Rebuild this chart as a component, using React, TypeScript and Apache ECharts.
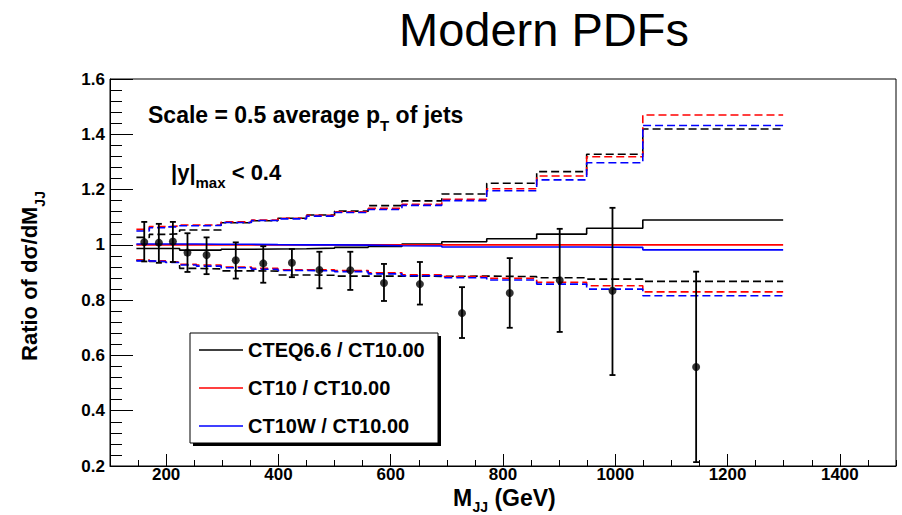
import React, { useEffect, useRef } from "react";
import * as echarts from "echarts";

const FONT = "'Liberation Sans', Arial, Helvetica, sans-serif";

// Bin edges (GeV) of the theory histograms
const EDGES = [147, 170, 199, 224, 254, 298, 352, 399, 450, 500, 560, 620, 691, 771, 860, 949, 1049, 1299];

// CTEQ6.6 / CT10.00
const CTEQ_C = [0.987, 0.987, 0.987, 0.981, 0.981, 0.984, 0.985, 0.986, 0.988, 0.991, 0.994, 1.003, 1.011, 1.022, 1.039, 1.06, 1.09];
const CTEQ_UP = [1.027, 1.038, 1.04, 1.054, 1.054, 1.08, 1.087, 1.096, 1.108, 1.122, 1.142, 1.159, 1.184, 1.223, 1.265, 1.328, 1.419];
const CTEQ_DN = [0.944, 0.94, 0.937, 0.915, 0.913, 0.906, 0.905, 0.891, 0.89, 0.887, 0.887, 0.886, 0.887, 0.885, 0.881, 0.876, 0.868];

// CT10 / CT10.00
const CT10_C = [1.0, 1.0, 1.0, 1.0, 1.0, 1.0, 1.0, 1.0, 1.0, 1.0, 1.0, 1.0, 1.0, 1.0, 1.0, 1.0, 1.0];
const CT10_UP = [1.056, 1.066, 1.068, 1.072, 1.072, 1.083, 1.09, 1.096, 1.107, 1.12, 1.132, 1.147, 1.165, 1.203, 1.249, 1.319, 1.47];
const CT10_DN = [0.945, 0.942, 0.938, 0.93, 0.927, 0.92, 0.915, 0.91, 0.91, 0.907, 0.899, 0.892, 0.885, 0.879, 0.865, 0.852, 0.83];

// CT10W / CT10.00
const CT10W_C = [1.003, 1.003, 1.003, 1.003, 1.002, 1.002, 1.001, 1.0, 1.0, 0.999, 0.997, 0.996, 0.992, 0.992, 0.992, 0.991, 0.982];
const CT10W_UP = [1.05, 1.062, 1.065, 1.069, 1.07, 1.081, 1.088, 1.094, 1.104, 1.117, 1.128, 1.143, 1.16, 1.196, 1.235, 1.297, 1.432];
const CT10W_DN = [0.942, 0.94, 0.936, 0.927, 0.923, 0.917, 0.912, 0.907, 0.906, 0.903, 0.895, 0.888, 0.881, 0.873, 0.858, 0.84, 0.816];

// Data points
const DATA_X = [161, 187, 212, 238, 272, 324, 373, 424, 473, 528, 588, 652, 727, 812, 901, 995, 1144];
const DATA_Y = [1.01, 1.008, 1.012, 0.972, 0.963, 0.944, 0.933, 0.935, 0.909, 0.908, 0.862, 0.858, 0.753, 0.826, 0.872, 0.834, 0.558];
const DATA_HI = [1.083, 1.076, 1.083, 1.042, 1.027, 1.009, 0.995, 0.985, 0.975, 0.975, 0.931, 0.938, 0.847, 0.952, 1.058, 1.134, 0.903];
const DATA_LO = [0.94, 0.935, 0.938, 0.902, 0.894, 0.878, 0.863, 0.883, 0.843, 0.837, 0.797, 0.784, 0.663, 0.7, 0.685, 0.529, 0.214];

// Axis ticks
const X_TICKS = [200, 400, 600, 800, 1000, 1200, 1400];
const Y_TICKS = [0.2, 0.4, 0.6, 0.8, 1, 1.2, 1.4, 1.6];

const LEGEND_NAMES = ["CTEQ6.6 / CT10.00", "CT10 / CT10.00", "CT10W / CT10.00"];

function stepData(vals: number[]) {
  const d: number[][] = vals.map((v, i) => [EDGES[i], v]);
  d.push([EDGES[EDGES.length - 1], vals[vals.length - 1]]);
  return d;
}

function stepSeries(name: string, vals: number[], color: string, dashed: boolean) {
  return {
    type: "line",
    name,
    data: stepData(vals),
    step: "end",
    symbol: "none",
    showSymbol: false,
    silent: true,
    color,
    itemStyle: { color },
    lineStyle: { color, width: 1.6, type: dashed ? [8, 4] : "solid" },
    z: 2,
  };
}

const richMain = (size: number, weight = "bold") => ({
  fontSize: size,
  fontWeight: weight,
  fontFamily: FONT,
  fill: "#000",
});
const richSub = (size: number, pad: number) => ({
  fontSize: size,
  fontWeight: "bold",
  fontFamily: FONT,
  fill: "#000",
  padding: [pad, 0, 0, 0],
});

const plainText = (x: number, y: number, text: string, size: number, lineHeight: number) => ({
  type: "text",
  x,
  y,
  z: 10,
  style: {
    text,
    fontSize: size,
    fontWeight: "bold",
    fontFamily: FONT,
    fill: "#000",
    lineHeight,
    align: "left",
    verticalAlign: "middle",
  },
});

export default function App() {
  const ref = useRef<HTMLDivElement>(null);
  useEffect(() => {
    const chart = echarts.init(ref.current!, null, { renderer: "svg" });
    const option: any = {
      animation: false,
      grid: {
        left: 110,
        top: 79,
        right: 6,
        bottom: 49,
        show: true,
        borderColor: "#000",
        borderWidth: 1,
        backgroundColor: "transparent",
      },
      xAxis: [
        {
          type: "value",
          min: 100,
          max: 1500,
          interval: 100,
          axisLine: { lineStyle: { color: "#000", width: 1 } },
          axisTick: { inside: true, length: 12, customValues: X_TICKS, lineStyle: { color: "#000", width: 1 } },
          axisLabel: {
            customValues: X_TICKS,
            fontSize: 17,
            lineHeight: 17,
            fontWeight: "bold",
            color: "#000",
            fontFamily: FONT,
            margin: 0,
            formatter: (v: number) => String(v),
          },
          splitLine: { show: false },
        },
        {
          type: "value",
          min: 100,
          max: 1500,
          interval: 50,
          position: "bottom",
          axisLine: { show: false },
          axisTick: { inside: true, length: 6, lineStyle: { color: "#000", width: 1 } },
          axisLabel: { show: false },
          splitLine: { show: false },
        },
      ],
      yAxis: {
        type: "value",
        min: 0.2,
        max: 1.6,
        interval: 0.2,
        axisLine: { show: true, lineStyle: { color: "#000", width: 1 } },
        axisTick: { inside: true, length: 23, customValues: Y_TICKS, lineStyle: { color: "#000", width: 1 } },
        minorTick: { show: true, splitNumber: 5, length: 12, lineStyle: { color: "#000", width: 1 } },
        axisLabel: {
          customValues: Y_TICKS,
          fontSize: 17,
          fontWeight: "bold",
          color: "#000",
          fontFamily: FONT,
          margin: 5,
          formatter: (v: number) => String(Number(v.toFixed(1))),
        },
        splitLine: { show: false },
        minorSplitLine: { show: false },
      },
      legend: {
        data: LEGEND_NAMES,
        orient: "vertical",
        left: 199,
        top: 340,
        padding: 0,
        itemWidth: 44,
        itemHeight: 1.6,
        itemGap: 18,
        itemTextGap: 10,
        icon: "rect",
        selectedMode: false,
        backgroundColor: "transparent",
        textStyle: { fontSize: 20, fontWeight: "bold", color: "#000", fontFamily: FONT, lineHeight: 20 },
        z: 20,
      },
      graphic: [
        {
          type: "text",
          x: 544,
          y: 29,
          z: 10,
          style: {
            text: "Modern PDFs",
            fontSize: 47,
            fontWeight: "normal",
            fontFamily: FONT,
            fill: "#000",
            align: "center",
            verticalAlign: "middle",
          },
        },
        {
          type: "text",
          x: 148,
          y: 115,
          z: 10,
          style: {
            text: "{m|Scale = 0.5 average p}{s|T}{m| of jets}",
            rich: { m: richMain(23), s: richSub(15, 20) },
            align: "left",
            verticalAlign: "middle",
            fill: "#000",
          },
        },
        {
          type: "text",
          x: 171,
          y: 172.5,
          z: 10,
          style: {
            text: "{m||y|}{s|max}{m| < 0.4}",
            rich: { m: richMain(22), s: richSub(15, 19) },
            align: "left",
            verticalAlign: "middle",
            fill: "#000",
          },
        },
        // x-axis title: M_JJ (GeV)
        plainText(453, 498, "M", 23, 18),
        plainText(472.5, 507, "JJ", 14, 13),
        plainText(488, 498, " (GeV)", 23, 18),
        {
          type: "text",
          x: 29,
          y: 276,
          rotation: Math.PI / 2,
          z: 10,
          style: {
            text: "{m|Ratio of dσ/dM}{s|JJ}",
            rich: { m: richMain(22), s: richSub(14, 22) },
            align: "center",
            verticalAlign: "middle",
            fill: "#000",
          },
        },
        {
          type: "rect",
          z: 10,
          shape: { x: 193, y: 336, width: 248, height: 110 },
          style: { fill: "#000" },
        },
        {
          type: "rect",
          z: 11,
          shape: { x: 190, y: 333, width: 248, height: 110 },
          style: { fill: "#fff", stroke: "#000", lineWidth: 1 },
        },
      ],
      series: [
        stepSeries(LEGEND_NAMES[0], CTEQ_C, "#000000", false),
        stepSeries("CTEQ6.6 upper", CTEQ_UP, "#000000", true),
        stepSeries("CTEQ6.6 lower", CTEQ_DN, "#000000", true),
        stepSeries(LEGEND_NAMES[1], CT10_C, "#ff0000", false),
        stepSeries("CT10 upper", CT10_UP, "#ff0000", true),
        stepSeries("CT10 lower", CT10_DN, "#ff0000", true),
        stepSeries(LEGEND_NAMES[2], CT10W_C, "#0000ff", false),
        stepSeries("CT10W upper", CT10W_UP, "#0000ff", true),
        stepSeries("CT10W lower", CT10W_DN, "#0000ff", true),
        {
          type: "custom",
          name: "Data errors",
          silent: true,
          z: 4,
          data: DATA_X.map((x, i) => [x, DATA_LO[i], DATA_HI[i]]),
          encode: { x: 0, y: [1, 2] },
          renderItem: (params: any, api: any) => {
            const x = api.value(0);
            const lo = api.coord([x, api.value(1)]);
            const hi = api.coord([x, api.value(2)]);
            const st = { stroke: "#000", lineWidth: 1.8 };
            return {
              type: "group",
              children: [
                { type: "line", shape: { x1: lo[0], y1: lo[1], x2: hi[0], y2: hi[1] }, style: st },
                { type: "line", shape: { x1: lo[0] - 3, y1: lo[1], x2: lo[0] + 3, y2: lo[1] }, style: st },
                { type: "line", shape: { x1: hi[0] - 3, y1: hi[1], x2: hi[0] + 3, y2: hi[1] }, style: st },
              ],
            };
          },
        },
        {
          type: "scatter",
          name: "Data",
          silent: true,
          z: 5,
          symbol: "circle",
          symbolSize: 8,
          itemStyle: { color: "#000" },
          data: DATA_X.map((x, i) => [x, DATA_Y[i]]),
        },
      ],
    };
    chart.setOption(option);
    return () => chart.dispose();
  }, []);
  return (
    <div
      ref={ref}
      style={{ position: "fixed", left: 0, top: 0, width: 902, height: 515, background: "#fff" }}
    />
  );
}
